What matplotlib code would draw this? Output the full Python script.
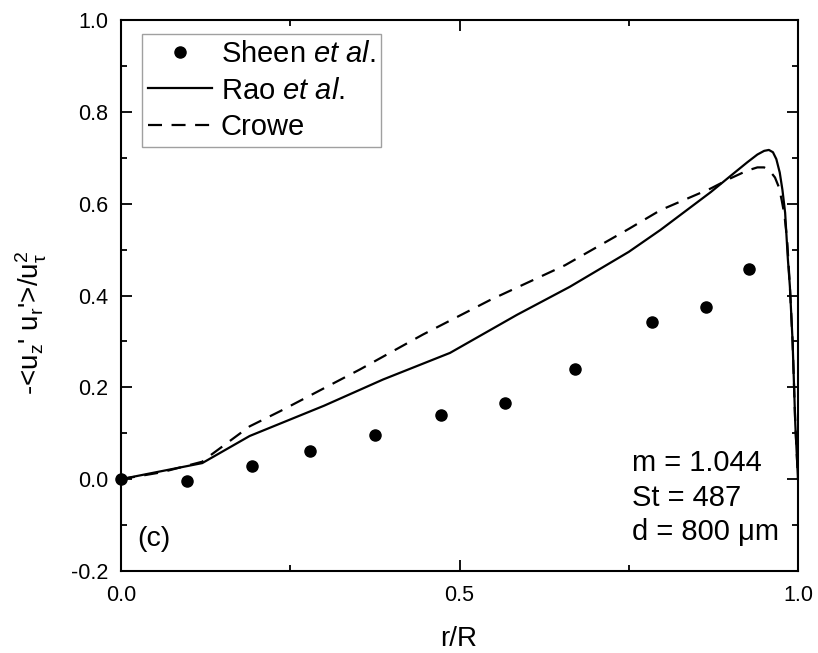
import matplotlib
matplotlib.use("Agg")
import matplotlib.pyplot as plt
from matplotlib.ticker import MultipleLocator

plt.rcParams['font.family'] = ['Liberation Sans', 'DejaVu Sans']
plt.rcParams['mathtext.fontset'] = 'custom'
plt.rcParams['mathtext.rm'] = 'Liberation Sans'
plt.rcParams['mathtext.it'] = 'Liberation Sans:italic'
plt.rcParams['mathtext.bf'] = 'Liberation Sans:bold'

# Sheen et al. (experimental points)
sheen_x = [0.0, 0.098, 0.194, 0.279, 0.375, 0.473, 0.567, 0.670, 0.785, 0.864, 0.927]
sheen_y = [0.0, -0.004, 0.028, 0.062, 0.096, 0.139, 0.165, 0.241, 0.343, 0.375, 0.458]

# Rao et al. (solid line)
rao_x = [0.0, 0.12, 0.19, 0.30, 0.387, 0.486, 0.585, 0.663, 0.75, 0.797, 0.871, 0.90,
         0.925, 0.94, 0.95, 0.957, 0.963, 0.968, 0.973, 0.977, 0.981, 0.985, 0.988,
         0.992, 0.996, 1.0]
rao_y = [0.0, 0.035, 0.094, 0.16, 0.217, 0.275, 0.358, 0.419, 0.495, 0.543, 0.625, 0.66,
         0.69, 0.707, 0.715, 0.717, 0.712, 0.697, 0.668, 0.63, 0.58, 0.48, 0.42,
         0.30, 0.12, 0.0]

# Crowe (dashed line)
crowe_x = [0.0, 0.06, 0.12, 0.134, 0.19, 0.235, 0.353, 0.446, 0.545, 0.656, 0.75, 0.797,
           0.871, 0.90, 0.925, 0.94, 0.95, 0.958, 0.966, 0.972, 0.976, 0.98, 0.984,
           0.988, 0.992, 0.996, 1.0]
crowe_y = [0.0, 0.015, 0.038, 0.054, 0.115, 0.148, 0.239, 0.315, 0.39, 0.466, 0.545, 0.586,
           0.633, 0.655, 0.672, 0.679, 0.679, 0.672, 0.657, 0.635, 0.607, 0.575, 0.52,
           0.42, 0.30, 0.12, 0.0]

fig = plt.figure(figsize=(8.18, 6.53), dpi=100)
ax = fig.add_axes([121/818, 1 - 571/653, 677/818, 551/653])

ax.plot(sheen_x, sheen_y, 'o', color='black', markersize=8, label=r'Sheen $\it{et\ al.}$',
        clip_on=False, zorder=3)
ax.plot(rao_x, rao_y, '-', color='black', linewidth=1.6, label=r'Rao $\it{et\ al.}$')
ax.plot(crowe_x, crowe_y, '--', color='black', linewidth=1.6, dashes=(6.3, 4.3), label='Crowe')

ax.set_xlim(0, 1.0)
ax.set_ylim(-0.2, 1.0)
ax.xaxis.set_major_locator(MultipleLocator(0.5))
ax.xaxis.set_minor_locator(MultipleLocator(0.25))
ax.yaxis.set_major_locator(MultipleLocator(0.2))
ax.yaxis.set_minor_locator(MultipleLocator(0.1))
ax.xaxis.set_major_formatter(plt.FormatStrFormatter('%.1f'))
ax.yaxis.set_major_formatter(plt.FormatStrFormatter('%.1f'))
ax.tick_params(which='both', direction='in', top=True, right=True, labelsize=15.5, width=1.3)
ax.tick_params(which='major', length=8)
ax.tick_params(axis='y', which='major', pad=9)
ax.tick_params(axis='x', which='major', pad=10)
ax.tick_params(which='minor', length=4.5)
for s in ax.spines.values():
    s.set_linewidth(1.5)

fig.text(459/818, 1 - 639/653, 'r/R', fontsize=20, ha='center', va='center')
fig.text(31/818, 1 - 323/653,
         "-<u$_\\mathrm{z}$' u$_\\mathrm{r}$'>/u$_\\mathrm{\u03c4}^\\mathrm{2}$",
         fontsize=20, ha='center', va='center', rotation=90)

leg = ax.legend(loc='upper left', bbox_to_anchor=(21/677, 1 - 14/551), fontsize=21,
                frameon=True, fancybox=False, edgecolor='#888888', handlelength=2.2,
                handletextpad=0.3, borderpad=0.2, labelspacing=0.30, borderaxespad=0)
leg.get_frame().set_linewidth(1.0)

ax.text(0.755, 0.017, 'm = 1.044', fontsize=21, va='baseline', ha='left')
ax.text(0.755, -0.059, 'St = 487', fontsize=21, va='baseline', ha='left')
ax.text(0.755, -0.132, 'd = 800 \u03bcm', fontsize=21, va='baseline', ha='left')
ax.text(0.024, -0.13, '(c)', fontsize=20.5, va='center', ha='left')

fig.savefig('out.png', dpi=100)
